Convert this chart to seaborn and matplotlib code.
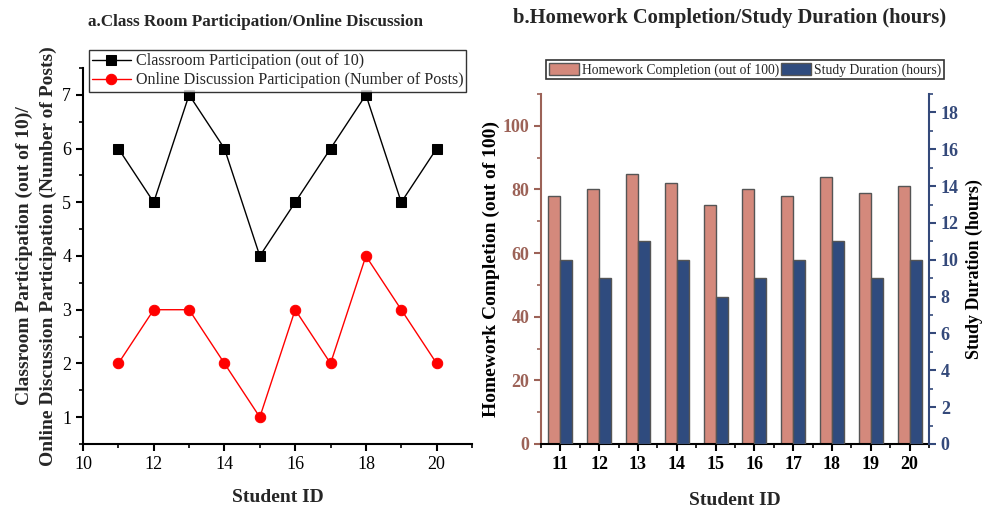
import numpy as np
import pandas as pd
import matplotlib
matplotlib.use("Agg")
import matplotlib.pyplot as plt
from matplotlib.ticker import MultipleLocator
import seaborn as sns

sns.set_theme(style="ticks")
plt.rcParams["font.family"] = ["Liberation Serif", "DejaVu Serif"]

student_ids = [11, 12, 13, 14, 15, 16, 17, 18, 19, 20]
classroom = [6, 5, 7, 6, 4, 5, 6, 7, 5, 6]
online_posts = [2, 3, 3, 2, 1, 3, 2, 4, 3, 2]
homework = [78, 80, 85, 82, 75, 80, 78, 84, 79, 81]
study_hours = [10, 9, 11, 10, 8, 9, 10, 11, 9, 10]

hw_color = "#d4897c"
sd_color = "#2f4b7e"
hw_axis = "#9c6257"
sd_axis = "#34497a"

fig = plt.figure(figsize=(9.85, 5.09), dpi=100)
ax1 = fig.add_axes([83 / 985, 65 / 509, 389 / 985, 376 / 509])
ax2 = fig.add_axes([541 / 985, 65 / 509, 388 / 985, 350 / 509])

# ---- a. line chart ----
df_a = pd.DataFrame({"id": student_ids, "classroom": classroom, "online": online_posts})
sns.lineplot(data=df_a, x="id", y="classroom", ax=ax1, color="black", lw=1,
             marker="s", markersize=7, markeredgecolor="black",
             label="Classroom Participation (out of 10)")
sns.lineplot(data=df_a, x="id", y="online", ax=ax1, color="red", lw=1,
             marker="o", markersize=7.5, markeredgecolor="red",
             label="Online Discussion Participation (Number of Posts)")
ax1.set_xlim(10, 21)
ax1.set_ylim(0.5, 7.5)
ax1.xaxis.set_major_locator(MultipleLocator(2))
ax1.xaxis.set_minor_locator(MultipleLocator(1))
ax1.yaxis.set_major_locator(MultipleLocator(1))
ax1.yaxis.set_minor_locator(MultipleLocator(0.5))
for s in ["top", "right"]:
    ax1.spines[s].set_visible(False)
for s in ["left", "bottom"]:
    ax1.spines[s].set_color("black")
    ax1.spines[s].set_linewidth(1.5)
ax1.tick_params(which="major", length=5, width=1.5, colors="black", labelsize=13)
ax1.tick_params(which="minor", length=3, width=1.2, colors="black")
ax1.set_xlabel("Student ID", fontsize=14, fontweight="bold", labelpad=12)
ax1.set_ylabel("Classroom Participation (out of 10)/\nOnline Discussion Participation (Number of Posts)",
               fontsize=14, fontweight="bold", labelpad=4, linespacing=1.5)
fig.text(88 / 985, 1 - 22 / 509, "a.Class Room Participation/Online Discussion",
         fontsize=12.3, fontweight="bold", ha="left", va="center")
leg1 = ax1.legend(loc="upper left", bbox_to_anchor=(0.015, 1.048), fontsize=11.6,
                  frameon=True, fancybox=False, edgecolor="black", handlelength=2.4,
                  borderpad=0.2, labelspacing=0.2, handletextpad=0.3, borderaxespad=0)
leg1.get_frame().set_linewidth(1.0)

# ---- b. grouped bars on twin axes ----
ax3 = ax2.twinx()
bar_w = 0.31
df_b = pd.DataFrame({"id": student_ids, "homework": homework, "study": study_hours})
df_b["hw_pos"] = df_b["id"] - bar_w / 2
df_b["sd_pos"] = df_b["id"] + bar_w / 2
sns.barplot(data=df_b, x="hw_pos", y="homework", ax=ax2, native_scale=True,
            width=bar_w, color=hw_color, saturation=1, edgecolor="#555555",
            linewidth=1, label="Homework Completion (out of 100)")
sns.barplot(data=df_b, x="sd_pos", y="study", ax=ax3, native_scale=True,
            width=bar_w, color=sd_color, saturation=1, edgecolor="#555555",
            linewidth=1, label="Study Duration (hours)")
ax2.set_xlim(10.5, 20.5)
ax2.set_ylim(0, 110)
ax3.set_ylim(0, 19)
ax2.set_xticks(student_ids)
ax2.set_xticklabels([str(i) for i in student_ids], fontweight="bold")
ax2.xaxis.set_minor_locator(MultipleLocator(0.5))
ax2.yaxis.set_major_locator(MultipleLocator(20))
ax2.yaxis.set_minor_locator(MultipleLocator(10))
ax3.yaxis.set_major_locator(MultipleLocator(2))
ax3.yaxis.set_minor_locator(MultipleLocator(1))

ax2.spines["top"].set_visible(False)
ax3.spines["top"].set_visible(False)
ax2.spines["right"].set_visible(False)
ax3.spines["left"].set_visible(False)
ax3.spines["bottom"].set_visible(False)
ax2.spines["bottom"].set_color("black")
ax2.spines["bottom"].set_linewidth(1.5)
ax2.spines["left"].set_color(hw_axis)
ax2.spines["left"].set_linewidth(1.5)
ax3.spines["right"].set_color(sd_axis)
ax3.spines["right"].set_linewidth(1.5)

ax2.tick_params(axis="x", which="major", length=5, width=1.5, colors="black", labelsize=13)
ax2.tick_params(axis="x", which="minor", length=3, width=1.2, colors="black")
ax2.tick_params(axis="y", which="major", length=5, width=1.5, colors=hw_axis, labelsize=13)
ax2.tick_params(axis="y", which="minor", length=3, width=1.2, colors=hw_axis)
ax3.tick_params(axis="y", which="major", length=5, width=1.5, colors=sd_axis, labelsize=13)
ax3.tick_params(axis="y", which="minor", length=3, width=1.2, colors=sd_axis)
for lbl in ax2.get_yticklabels():
    lbl.set_fontweight("bold")
for lbl in ax3.get_yticklabels():
    lbl.set_fontweight("bold")

ax2.set_xlabel("Student ID", fontsize=14, fontweight="bold", labelpad=14)
ax2.set_ylabel("Homework Completion (out of 100)", fontsize=14, fontweight="bold",
               color="black", labelpad=2)
ax3.set_ylabel("Study Duration (hours)", fontsize=13, fontweight="bold",
               color="black", labelpad=5)
fig.text(730 / 985, 1 - 18 / 509, "b.Homework Completion/Study Duration (hours)",
         fontsize=14.8, fontweight="bold", ha="center", va="center")

h2, l2 = ax2.get_legend_handles_labels()
h3, l3 = ax3.get_legend_handles_labels()
if ax3.get_legend() is not None:
    ax3.get_legend().remove()
leg2 = ax2.legend(h2 + h3, l2 + l3, loc="upper left", bbox_to_anchor=(0.013, 1.097),
                  ncol=2, fontsize=9.8, frameon=True, fancybox=False, edgecolor="black",
                  handlelength=2.2, handleheight=0.9, columnspacing=0.1,
                  handletextpad=0.25, borderpad=0.2, borderaxespad=0)
leg2.get_frame().set_linewidth(1.2)

fig.savefig("out.png", dpi=100)
